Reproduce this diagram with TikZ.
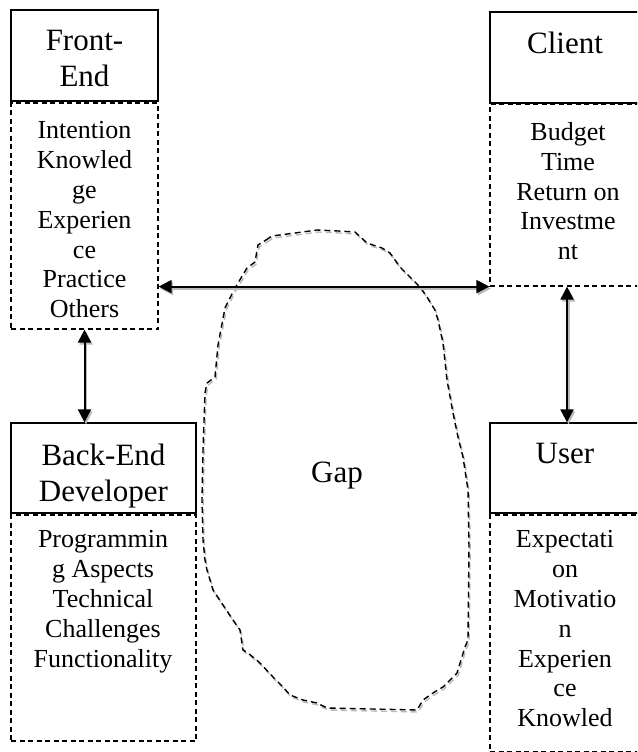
\documentclass[tikz,border=0pt]{standalone}
\usepackage{fontspec}
\setmainfont{Liberation Serif}
\usetikzlibrary{arrows.meta}
\begin{document}
\begin{tikzpicture}[x=1pt,y=-1pt,
  hbox/.style={draw=black, line width=1.3pt, inner sep=0pt},
  dbox/.style={draw=black, line width=1.2pt, dash pattern=on 5pt off 3.5pt, inner sep=0pt},
  htext/.style={font=\fontsize{31}{35.6}\selectfont, align=center, inner sep=0pt},
  btext/.style={font=\fontsize{26}{29.9}\selectfont, align=center, anchor=north, inner sep=0pt},
  link/.style={line width=2pt, {Triangle[length=13pt,width=13pt]}-{Triangle[length=13pt,width=13pt]}},
  shadowln/.style={draw=gray!55, fill=gray!55, transform canvas={shift={(1.5,2)}}},
  blob/.style={line width=1.4pt, dash pattern=on 6pt off 4pt}
]
\useasboundingbox[fill=white] (0,0) rectangle (637,752);
\clip (0,0) rectangle (637,752);

% boxes
\node[hbox, minimum width=147pt, minimum height=91pt] (feh) at (84.5,55.5) {};
\node[dbox, minimum width=147pt, minimum height=226pt] (febody) at (84.5,216) {};
\node[hbox, minimum width=154pt, minimum height=91pt] (ch) at (567,57.5) {};
\node[dbox, minimum width=154pt, minimum height=182pt] (cbody) at (567,195) {};
\node[hbox, minimum width=185pt, minimum height=90pt] (beh) at (103.5,468) {};
\node[dbox, minimum width=185pt, minimum height=226pt] (bebody) at (103.5,628) {};
\node[hbox, minimum width=154pt, minimum height=90pt] (uh) at (567,468) {};
\node[dbox, minimum width=154pt, minimum height=237pt] (ubody) at (567,633.5) {};

% texts
\node[htext, anchor=north] (feht) at (84.5,30) {Front-\\End};
\node[btext] (febt) at (84.5,121) {Intention\\Knowled\\ge\\Experien\\ce\\Practice\\Others};
\node[htext, anchor=base] (cht) at (565,53) {Client};
\node[btext] (cbt) at (568,122) {Budget\\Time\\Return on\\Investme\\nt};
\node[htext, anchor=north] (beht) at (103.5,444) {Back-End\\Developer};
\node[btext] (bebt) at (103,530) {Programmin\\g Aspects\\Technical\\Challenges\\Functionality};
\node[htext, anchor=base] (uht) at (565,463) {User};
\node[btext] (ubt) at (565,530) {Expectati\\on\\Motivatio\\n\\Experien\\ce\\Knowled};

% gap blob
\def\blobpath{(266,240) -- (272,236) -- (295,233) -- (317,230) -- (338,231) -- (355,232) -- (367,243) -- (382,248) -- (390,253) -- (400,267) -- (410,277) -- (420,287) -- (427,297) -- (435,310) -- (438,320) -- (443,343) -- (447,380) -- (453,413) -- (458,437) -- (463,457) -- (468,490) -- (469,547) -- (468,640) -- (465,647) -- (457,673) -- (443,687) -- (433,693) -- (423,700) -- (417,710) -- (327,708) -- (317,703) -- (303,700) -- (290,695) -- (283,687) -- (273,677) -- (260,663) -- (248,653) -- (243,650) -- (240,630) -- (233,620) -- (223,605) -- (213,590) -- (207,570) -- (205,560) -- (203,540) -- (202,500) -- (203,450) -- (205,393) -- (207,383) -- (215,377) -- (218,345) -- (225,308) -- (235,288) -- (247,268) -- (255,262) -- (258,245) -- cycle}
\draw[blob, draw=gray!55] [transform canvas={shift={(1.2,2)}}] \blobpath;
\draw[blob, draw=black] \blobpath;
\node[htext, anchor=base] (gap) at (337,482) {Gap};

% connectors
\coordinate (hl) at (febody.east |- cbody.south);
\coordinate (lv) at (febody.south |- beh.north);
\draw[link, shadowln] (hl) -- (cbody.south west);
\draw[link] (hl) -- (cbody.south west);
\draw[link, shadowln] (febody.south) -- (lv);
\draw[link] (febody.south) -- (lv);
\draw[link, shadowln] (cbody.south) -- (uh.north);
\draw[link] (cbody.south) -- (uh.north);
\end{tikzpicture}
\end{document}
